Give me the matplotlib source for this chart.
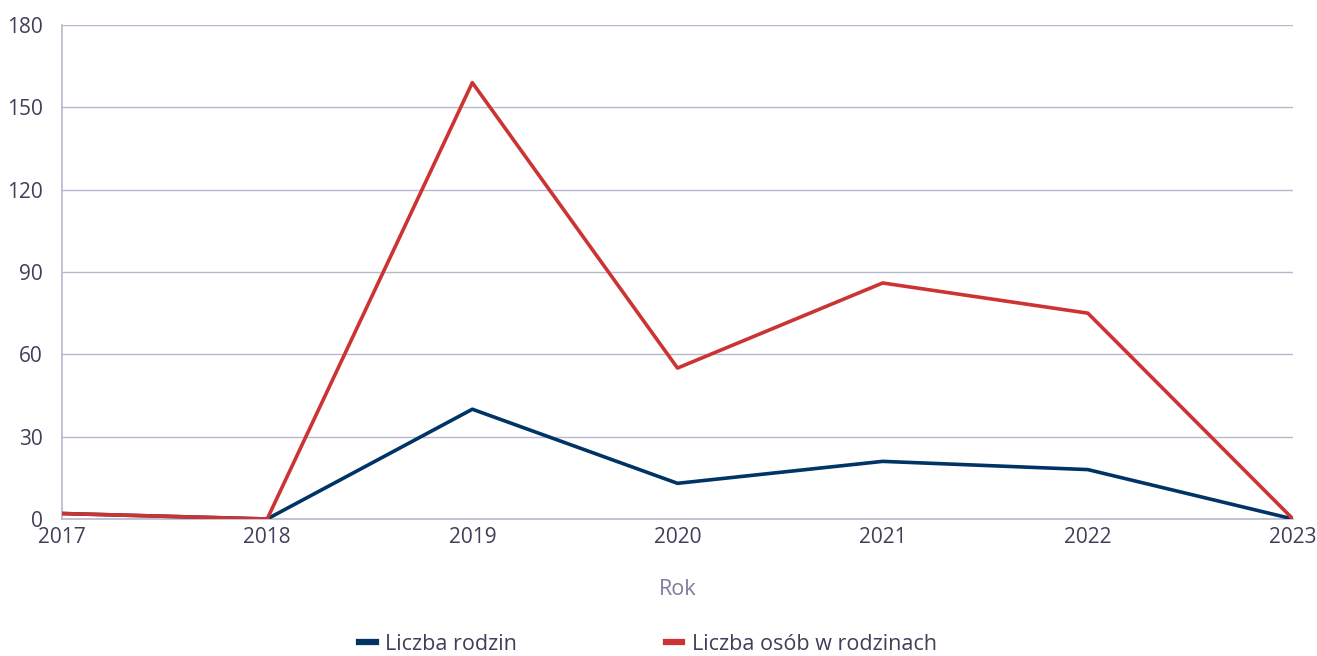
import matplotlib.pyplot as plt

years = ["2017", "2018", "2019", "2020", "2021", "2022", "2023"]
rodziny = [2, 0, 40, 13, 21, 18, 0]
osoby = [2, 0, 159, 55, 86, 75, 0]
yticks = [0, 30, 60, 90, 120, 150, 180]

text_col = "#3f3f5a"
grid_col = "#b8b8cc"

plt.rcParams['font.family'] = ['Open Sans', 'DejaVu Sans']

fig = plt.figure(figsize=(13.17, 6.56), dpi=100)
ax = fig.add_axes([62 / 1317, 1 - 519 / 656, (1293 - 62) / 1317, (519 - 25) / 656])

x = list(range(len(years)))
ax.plot(x, rodziny, color="#003366", lw=2.6, label="Liczba rodzin", zorder=3)
ax.plot(x, osoby, color="#cc3333", lw=2.6, label="Liczba osób w rodzinach", zorder=4)

ax.set_xlim(0, len(years) - 1)
ax.set_ylim(0, 180)
ax.set_yticks(yticks)
ax.set_xticks(x)
ax.set_xticklabels(years)
ax.tick_params(length=0, labelsize=15, colors=text_col)
ax.tick_params(axis="y", pad=14)
ax.tick_params(axis="x", pad=6)
ax.grid(axis="y", color=grid_col, lw=1)
for s in ["top", "right"]:
    ax.spines[s].set_visible(False)
for s in ["left", "bottom"]:
    ax.spines[s].set_color(grid_col)
    ax.spines[s].set_linewidth(1.2)

ax.set_xlabel("Rok", fontsize=15.5, color="#7c7c9c", labelpad=22)

leg = fig.legend(loc="center", bbox_to_anchor=(0.492, 1 - 644 / 656), ncol=2, frameon=False,
                 fontsize=15.5, handlelength=0.75, handletextpad=0.45, columnspacing=6.9)
for t in leg.get_texts():
    t.set_color(text_col)
for h in leg.get_lines():
    h.set_linewidth(4.5)

fig.savefig("out.png", dpi=100)
